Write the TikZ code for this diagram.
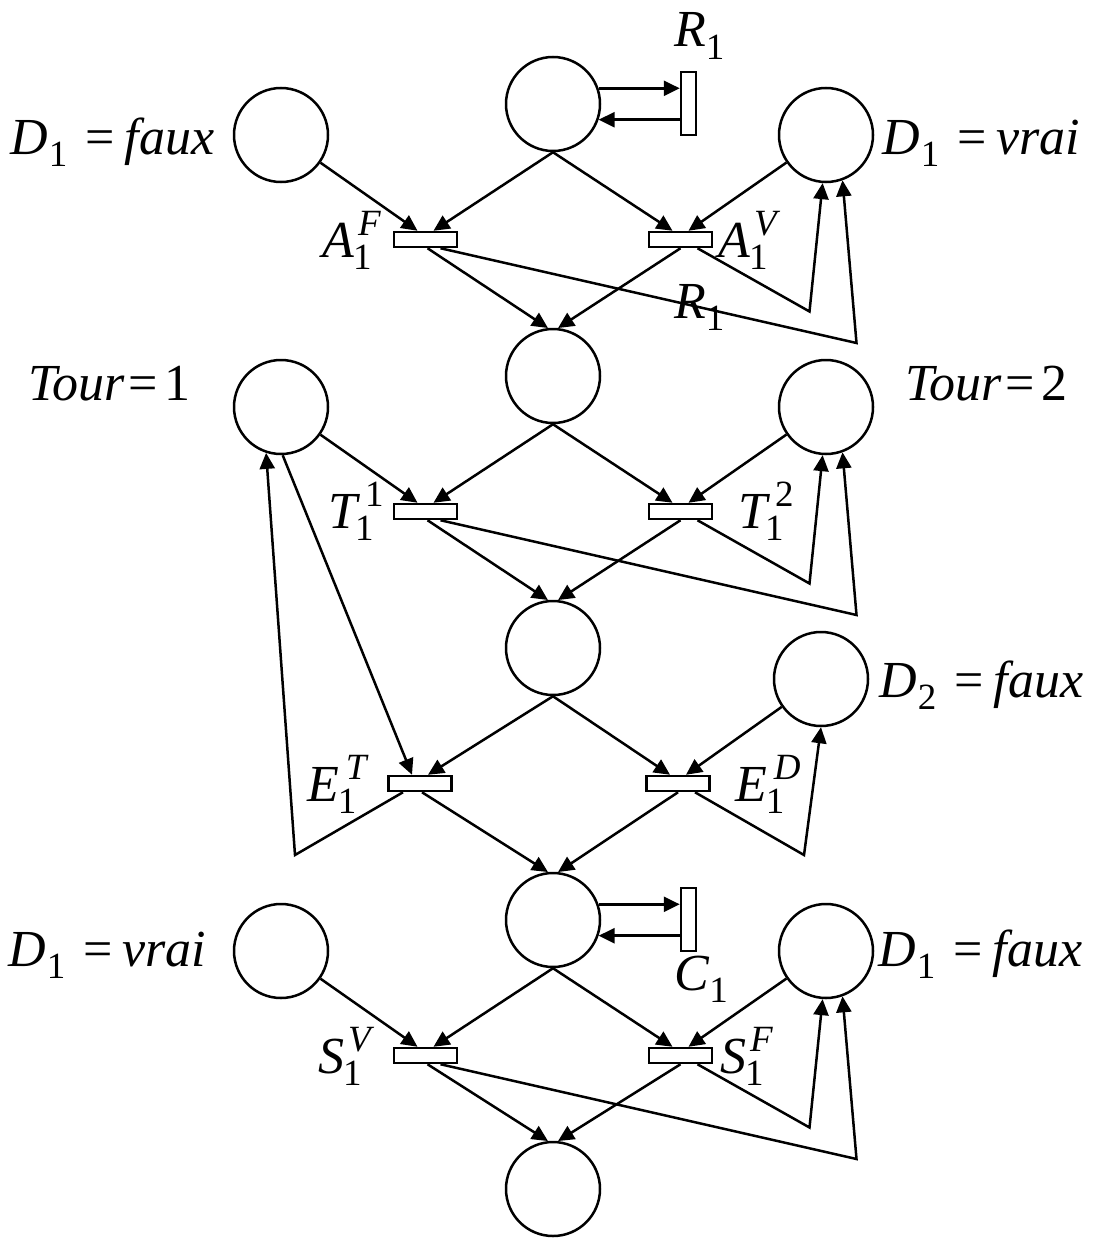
\documentclass[tikz,border=0pt]{standalone}
\usepackage{fontspec}
\setmainfont{Liberation Serif}
\newfontfamily\labfont{Liberation Serif}
\usetikzlibrary{calc,arrows.meta}
\newcommand\subf{\fontsize{37}{37}\selectfont}
% base, sub, sup, sub kern, sup kern
\newcommand\pnl[5]{\textit{#1}\rlap{\kern#5\raisebox{0.42em}{\subf #3}}\kern#4\raisebox{-0.24em}{\subf #2}}
\newcommand\eqlab[3]{\textit{#1}\kern1pt\raisebox{-0.24em}{\subf #2}\kern18pt=\kern10pt\textit{#3}}
\begin{document}
\begin{tikzpicture}[x=1pt,y=-1pt,
  place/.style={circle,draw,line width=2.5pt,minimum size=94pt,inner sep=0pt},
  trh/.style={rectangle,draw,line width=2.5pt,minimum width=63pt,minimum height=15pt,inner sep=0pt},
  trv/.style={rectangle,draw,line width=2.5pt,minimum width=15pt,minimum height=63pt,inner sep=0pt},
  arc/.style={line width=2.5pt,-{Triangle[length=16pt,width=15pt]}},
  lab/.style={inner sep=0pt,anchor=base west,font=\labfont\fontsize{52}{60}\selectfont},
]
\useasboundingbox (0,0) rectangle (1097,1239);
% ---------- row 1
\node[place] (p1) at (553,104) {};
\node[place] (d1f) at (281,135) {};
\node[place] (d1v) at (826,135) {};
\node[trv] (r1) at (688.5,103.5) {};
\node[trh] (a1f) at (425.5,239.5) {};
\node[trh] (a1v) at (680.5,239.5) {};
\coordinate (ja1) at (809.5,311.5);
\coordinate (jb1) at (856.5,343);
% ---------- row 2
\node[place] (p2) at (553,376) {};
\node[place] (to1) at (281,407) {};
\node[place] (to2) at (826,407) {};
\node[trh] (t11) at (425.5,511.5) {};
\node[trh] (t12) at (680.5,511.5) {};
\coordinate (ja2) at (809.5,583.5);
\coordinate (jb2) at (856.5,615);
% ---------- row 3
\node[place] (p3) at (553,648) {};
\node[place] (d2f) at (821,679) {};
\node[trh] (e1t) at (420,783.5) {};
\node[trh] (e1d) at (678,783.5) {};
\coordinate (je1) at (295,855);
\coordinate (je2) at (804,855);
% ---------- row 4
\node[place] (p4) at (553,920) {};
\node[place] (d1v2) at (281,951) {};
\node[place] (d1f2) at (826,951) {};
\node[trv] (c1) at (688.5,919.5) {};
\node[trh] (s1v) at (425.5,1055.5) {};
\node[trh] (s1f) at (680.5,1055.5) {};
\coordinate (ja4) at (809.5,1127.5);
\coordinate (jb4) at (856.5,1159);
% ---------- last place
\node[place] (p5) at (553,1189) {};

% ---------- arcs row 1
\draw[arc] (p1.19) -- (p1.19 -| r1.west);
\draw[arc] (r1.west |- p1.-19) -- (p1.-19);
\draw[arc] (d1f) -- ($(a1f.north)+(-8,0)$);
\draw[arc] (p1.south) -- ($(a1f.north)+(8,0)$);
\draw[arc] (p1.south) -- ($(a1v.north)+(-8,0)$);
\draw[arc] (d1v) -- ($(a1v.north)+(8,0)$);
\draw[arc] ($(a1f.south)+(2,0)$) -- (p2.96);
\draw[arc] (a1v.south) -- (p2.84);
\draw[arc] ($(a1f.south)+(15,0)$) -- (jb1) -- (d1v.-70);
\draw[arc] ($(a1v.south)+(17,0)$) -- (ja1) -- (d1v.-94);
% ---------- arcs row 2
\draw[arc] (to1) -- ($(t11.north)+(-8,0)$);
\draw[arc] (p2.south) -- ($(t11.north)+(8,0)$);
\draw[arc] (p2.south) -- ($(t12.north)+(-8,0)$);
\draw[arc] (to2) -- ($(t12.north)+(8,0)$);
\draw[arc] ($(t11.south)+(2,0)$) -- (p3.96);
\draw[arc] (t12.south) -- (p3.84);
\draw[arc] ($(t11.south)+(15,0)$) -- (jb2) -- (to2.-70);
\draw[arc] ($(t12.south)+(17,0)$) -- (ja2) -- (to2.-94);
% ---------- arcs row 3
\draw[arc] (to1.-88) -- ($(e1t.north)+(-8,0)$);
\draw[arc] (p3.south) -- ($(e1t.north)+(8,0)$);
\draw[arc] (p3.south) -- ($(e1d.north)+(-8,0)$);
\draw[arc] (d2f) -- ($(e1d.north)+(8,0)$);
\draw[arc] ($(e1t.south)+(2,0)$) -- (p4.96);
\draw[arc] (e1d.south) -- (p4.84);
\draw[arc] ($(e1t.south)+(-17,0)$) -- (je1) -- (to1.-108);
\draw[arc] ($(e1d.south)+(17,0)$) -- (je2) -- (d2f.-90);
% ---------- arcs row 4
\draw[arc] (p4.19) -- (p4.19 -| c1.west);
\draw[arc] (c1.west |- p4.-19) -- (p4.-19);
\draw[arc] (d1v2) -- ($(s1v.north)+(-8,0)$);
\draw[arc] (p4.south) -- ($(s1v.north)+(8,0)$);
\draw[arc] (p4.south) -- ($(s1f.north)+(-8,0)$);
\draw[arc] (d1f2) -- ($(s1f.north)+(8,0)$);
\draw[arc] ($(s1v.south)+(2,0)$) -- (p5.96);
\draw[arc] (s1f.south) -- (p5.84);
\draw[arc] ($(s1v.south)+(15,0)$) -- (jb4) -- (d1f2.-70);
\draw[arc] ($(s1f.south)+(17,0)$) -- (ja4) -- (d1f2.-94);

% ---------- labels
\node[lab] (lD1f) at (10,154) {\eqlab{D}{1}{faux}};
\node[lab] (lD1v) at (882,154) {\eqlab{D}{1}{vrai}};
\node[lab] (lR1) at (674,47) {\textit{R}\raisebox{-0.24em}{\subf 1}};
\node[lab] (lA1F) at (322,257) {\pnl{A}{1}{\textit{F}}{-1pt}{4pt}};
\node[lab] (lA1V) at (718,257) {\pnl{A}{1}{\textit{V}}{-1pt}{4pt}};
\node[lab] (lR1b) at (674,318) {\textit{R}\raisebox{-0.24em}{\subf 1}};
\node[lab] (lT1) at (28,400) {\textit{Tour}\kern4pt=\kern6pt1};
\node[lab] (lT2) at (905,400) {\textit{Tour}\kern4pt=\kern6pt2};
\node[lab] (lT11) at (328,528) {\pnl{T}{1}{1}{-5pt}{5pt}};
\node[lab] (lT12) at (738,528) {\pnl{T}{1}{2}{-5pt}{5pt}};
\node[lab] (lD2f) at (879,697) {\eqlab{D}{2}{faux}};
\node[lab] (lE1T) at (307,801) {\pnl{E}{1}{\textit{T}}{-1pt}{7pt}};
\node[lab] (lE1D) at (735,801) {\pnl{E}{1}{\textit{D}}{-1pt}{7pt}};
\node[lab] (lD1v2) at (8,966) {\eqlab{D}{1}{vrai}};
\node[lab] (lD1f2) at (878,966) {\eqlab{D}{1}{faux}};
\node[lab] (lC1) at (674,990) {\textit{C}\raisebox{-0.24em}{\subf 1}};
\node[lab] (lS1V) at (318,1073) {\pnl{S}{1}{\textit{V}}{-1pt}{4pt}};
\node[lab] (lS1F) at (720,1073) {\pnl{S}{1}{\textit{F}}{-1pt}{4pt}};
\end{tikzpicture}
\end{document}
